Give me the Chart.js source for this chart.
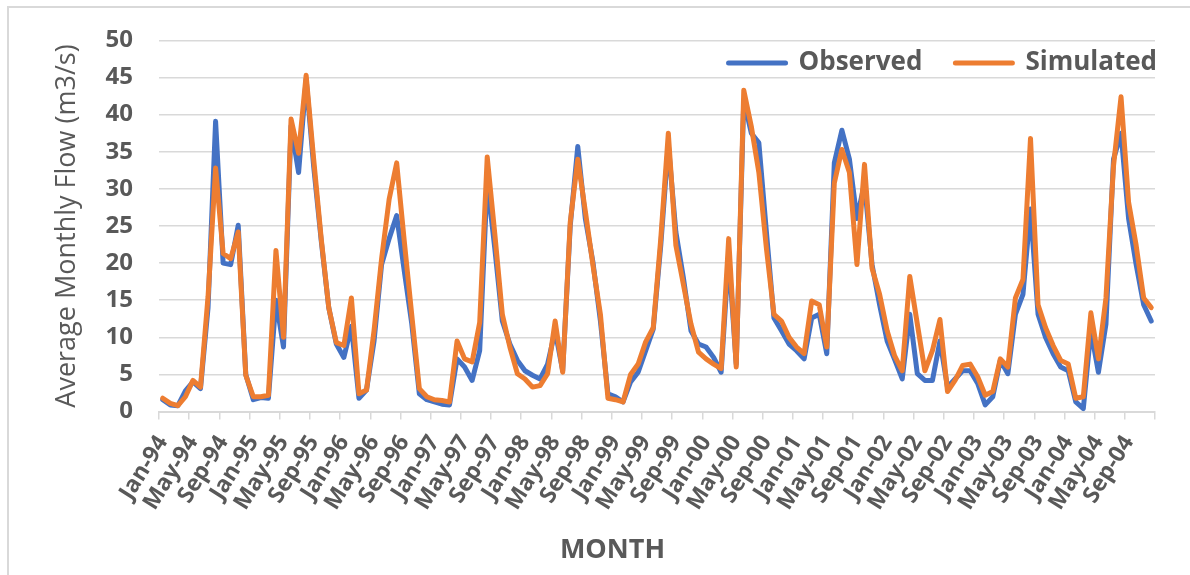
<!DOCTYPE html>
<html>
<head>
<meta charset="utf-8">
<script src="https://cdn.jsdelivr.net/npm/chart.js@4/dist/chart.umd.min.js"></script>
<style>
  html, body { margin: 0; padding: 0; background: #ffffff; }
  #wrap { position: relative; width: 1190px; height: 575px; overflow: hidden; }
  #frame { position: absolute; left: 7px; top: 6px; width: 1300px; height: 700px;
           border-left: 2px solid #d9d9d9; border-top: 2px solid #d9d9d9; box-sizing: border-box; }
  canvas { position: absolute; left: 0; top: 0; }
</style>
</head>
<body>
<div id="wrap">
  <div id="frame"></div>
  <canvas id="chart" width="1190" height="575"></canvas>
</div>
<script>
// Monthly series, Jan 1994 – Dec 2004
const monthNames = ['Jan', 'Feb', 'Mar', 'Apr', 'May', 'Jun', 'Jul', 'Aug', 'Sep', 'Oct', 'Nov', 'Dec'];
const yearCodes = ['94', '95', '96', '97', '98', '99', '00', '01', '02', '03', '04'];
const categories = yearCodes.flatMap(y => monthNames.map(m => m + '-' + y));

// Average monthly flow, m3/s
const observed = [
  1.6, 0.9, 0.8, 2.8, 4.0, 3.1, 14.0, 39.1, 20.0, 19.8, 25.1, 5.0,
  1.6, 1.9, 1.8, 15.0, 8.7, 38.5, 32.2, 44.8, 33.0, 23.0, 14.0, 9.1,
  7.3, 11.5, 1.8, 2.9, 9.5, 19.8, 23.3, 26.4, 19.0, 11.8, 2.4, 1.6,
  1.3, 1.0, 0.9, 7.1, 6.0, 4.2, 8.2, 31.0, 22.0, 12.2, 9.1, 6.9,
  5.5, 4.9, 4.4, 6.4, 10.9, 5.5, 25.0, 35.7, 26.0, 20.2, 12.2, 2.4,
  2.0, 1.3, 4.0, 5.3, 8.2, 11.1, 22.4, 36.0, 24.2, 18.0, 10.9, 9.1,
  8.7, 7.3, 5.3, 21.0, 6.4, 42.0, 37.5, 36.2, 24.2, 12.6, 10.9, 9.1,
  8.2, 7.1, 12.6, 13.1, 7.8, 33.5, 37.9, 34.0, 26.0, 30.8, 19.8, 14.4,
  9.5, 7.0, 4.4, 13.1, 5.1, 4.2, 4.2, 9.5, 3.3, 4.4, 5.5, 5.5,
  3.8, 0.9, 2.0, 6.9, 5.1, 13.1, 15.8, 27.3, 13.1, 10.0, 7.8, 6.0,
  5.5, 1.3, 0.4, 10.9, 5.3, 11.8, 34.0, 37.5, 26.0, 19.8, 14.4, 12.2
];
const simulated = [
  1.8, 1.1, 0.8, 2.0, 4.2, 3.3, 15.5, 32.8, 21.3, 20.6, 24.2, 4.9,
  2.0, 2.0, 2.2, 21.7, 10.0, 39.4, 34.8, 45.3, 34.0, 23.3, 14.0, 9.3,
  8.9, 15.3, 2.4, 2.9, 10.9, 20.6, 28.6, 33.5, 23.0, 13.0, 3.1, 2.0,
  1.6, 1.5, 1.3, 9.5, 7.1, 6.7, 12.0, 34.3, 24.0, 13.1, 8.7, 5.1,
  4.4, 3.3, 3.5, 5.1, 12.2, 5.3, 25.5, 34.0, 27.0, 19.8, 13.1, 1.8,
  1.6, 1.3, 5.0, 6.4, 9.4, 11.3, 23.3, 37.5, 22.4, 17.1, 11.8, 8.0,
  7.1, 6.4, 5.8, 23.3, 6.0, 43.3, 38.4, 32.2, 22.0, 13.1, 12.2, 10.0,
  8.7, 7.8, 14.9, 14.4, 8.7, 30.8, 35.3, 32.2, 19.8, 33.3, 19.3, 15.8,
  10.9, 7.5, 5.5, 18.2, 11.8, 5.5, 8.2, 12.4, 2.7, 4.2, 6.2, 6.4,
  4.7, 2.2, 2.7, 7.1, 6.0, 15.3, 17.8, 36.8, 14.4, 11.3, 8.9, 6.9,
  6.4, 1.8, 2.0, 13.3, 7.1, 15.3, 33.1, 42.4, 28.2, 22.4, 15.3, 14.0
];
const seriesNames = ['Observed', 'Simulated'];
const yTicks = [0, 5, 10, 15, 20, 25, 30, 35, 40, 45, 50];
const labelEvery = 4;

const textGray = '#595959';
const gridGray = '#d9d9d9';
Chart.defaults.font.family = "'Open Sans', 'Liberation Sans', sans-serif";
Chart.defaults.color = textGray;

const LEGEND_PAD = 33;
const LEGEND_FONT = 26;
const LEGEND_CENTER_Y = 63;

// moves the legend row down into the top of the plot area
const legendInside = {
  id: 'legendInside',
  afterLayout(chart) {
    const lg = chart.legend;
    if (!lg) return;
    const h = lg.bottom - lg.top;
    lg.top = LEGEND_CENTER_Y - LEGEND_PAD - LEGEND_FONT / 2;
    lg.bottom = lg.top + h;
  }
};

new Chart(document.getElementById('chart'), {
  type: 'line',
  data: {
    labels: categories,
    datasets: [
      {
        label: seriesNames[0],
        data: observed,
        borderColor: '#4472C4',
        backgroundColor: '#4472C4',
        order: 1
      },
      {
        label: seriesNames[1],
        data: simulated,
        borderColor: '#ED7D31',
        backgroundColor: '#ED7D31',
        order: 0
      }
    ]
  },
  options: {
    responsive: false,
    animation: false,
    events: [],
    layout: { padding: { left: 35, top: 36 - (2 * LEGEND_PAD + LEGEND_FONT + 10), right: 0, bottom: 0 } },
    elements: {
      line: { borderWidth: 5, tension: 0, borderJoinStyle: 'round', borderCapStyle: 'round', fill: false },
      point: { radius: 0, hoverRadius: 0 }
    },
    scales: {
      x: {
        type: 'category',
        offset: true,
        grid: {
          display: true,
          offset: true,
          drawOnChartArea: false,
          drawTicks: true,
          tickLength: 8,
          lineWidth: 1.5,
          color: (c) => (c.index === undefined || c.index % labelEvery === 0) ? gridGray : 'rgba(0,0,0,0)'
        },
        border: { display: true, color: gridGray, width: 2 },
        ticks: {
          autoSkip: false,
          maxRotation: 58,
          minRotation: 58,
          padding: 11,
          color: textGray,
          font: { size: 23, weight: 'bold' },
          callback: function (value, index) {
            return index % labelEvery === 0 ? categories[index] : '';
          }
        },
        afterFit: (scale) => { scale.height = 123; }
      },
      y: {
        position: 'left',
        min: yTicks[0],
        max: yTicks[yTicks.length - 1],
        afterBuildTicks: (scale) => { scale.ticks = yTicks.map(v => ({ value: v })); },
        grid: { color: gridGray, lineWidth: 1.5, drawTicks: false },
        border: { display: false },
        ticks: {
          padding: 26,
          color: textGray,
          font: { size: 24, weight: 'bold' }
        },
        title: {
          display: true,
          text: 'Average Monthly Flow (m3/s)',
          color: textGray,
          font: { size: 27, weight: 'normal' },
          padding: { top: 16, bottom: 0 }
        },
        afterFit: (scale) => { scale.width = 124; }
      },
      yRight: {
        position: 'right',
        display: true,
        grid: { display: false, drawOnChartArea: false },
        border: { display: false },
        ticks: { display: false },
        afterFit: (scale) => { scale.width = 35; }
      }
    },
    plugins: {
      legend: {
        display: true,
        position: 'top',
        align: 'end',
        labels: {
          usePointStyle: true,
          pointStyle: 'line',
          pointStyleWidth: 57,
          padding: LEGEND_PAD,
          color: textGray,
          font: { size: LEGEND_FONT, weight: 'bold' },
          sort: (a, b) => a.datasetIndex - b.datasetIndex,
          generateLabels: (chart) => Chart.defaults.plugins.legend.labels.generateLabels(chart)
            .map(item => Object.assign(item, { lineWidth: 5, lineCap: 'round' }))
        }
      },
      title: {
        display: true,
        position: 'bottom',
        text: 'MONTH',
        color: textGray,
        font: { size: 27, weight: 'bold' },
        padding: { top: 0, bottom: 8 }
      },
      tooltip: { enabled: false }
    }
  },
  plugins: [legendInside]
});
</script>
</body>
</html>
